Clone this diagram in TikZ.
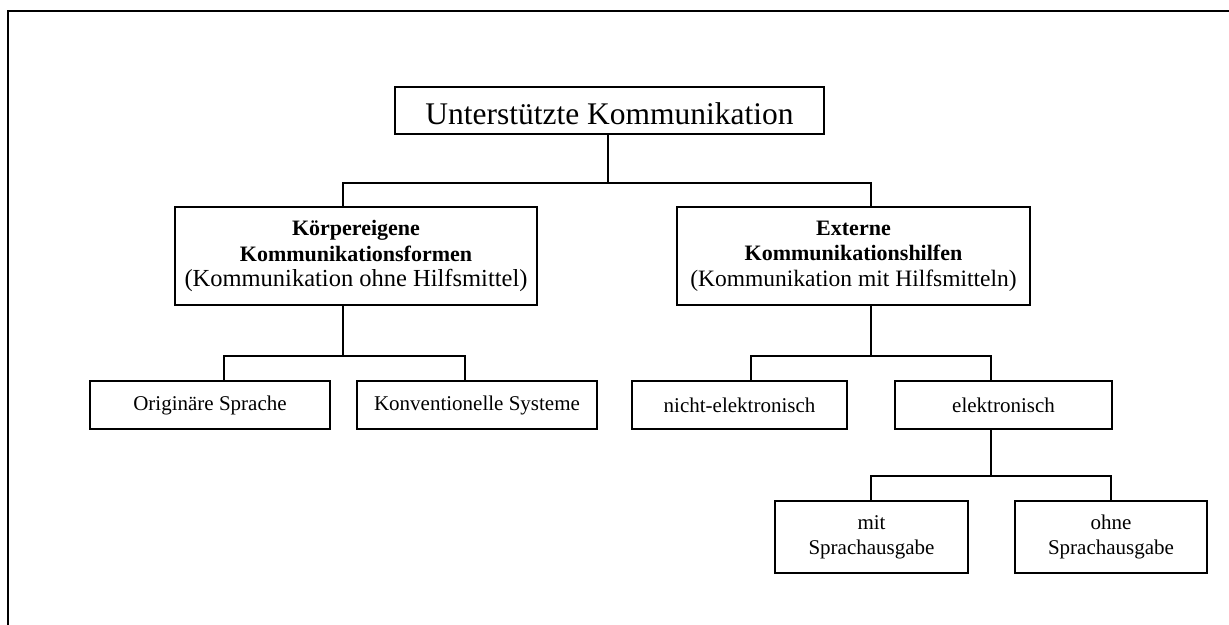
\documentclass[tikz,border=0pt]{standalone}
\usepackage{fontspec}
\setmainfont{Liberation Serif}
\begin{document}
\begin{tikzpicture}[x=1pt,y=-1pt,
  box/.style={draw, line width=1.6pt, rectangle, inner sep=0pt, align=center,
    font=\fontsize{21}{25}\selectfont},
  conn/.style={line width=1.6pt},
  frame/.style={line width=1.8pt}]
\useasboundingbox (0,0) rectangle (1229,624);
\draw[frame] (8,640) -- (8,11) -- (1240,11);

% nodes
\node[box, minimum width=429pt, minimum height=47pt,
  font=\fontsize{31.5}{36}\selectfont] (top) at (609.5,110.5)
  {\raisebox{-3pt}[\height][\depth]{Unterstützte Kommunikation}};
\node[box, minimum width=362pt, minimum height=98pt, font=\fontsize{22}{25.5}\selectfont] (koerper) at (356,256)
  {\textbf{Körpereigene}\\\textbf{Kommunikationsformen}\\{\fontsize{24.5}{25.5}\selectfont(Kommunikation ohne Hilfsmittel)}};
\node[box, minimum width=353pt, minimum height=98pt, font=\fontsize{22}{25.5}\selectfont] (extern) at (853.5,256)
  {\textbf{Externe}\\\textbf{Kommunikationshilfen}\\{\fontsize{23.5}{25.5}\selectfont(Kommunikation mit Hilfsmitteln)}};
\node[box, minimum width=240pt, minimum height=48pt] (orig) at (210,405) {Originäre Sprache};
\node[box, minimum width=240pt, minimum height=48pt] (konv) at (477,405) {Konventionelle Systeme};
\node[box, minimum width=215pt, minimum height=48pt] (nicht) at (739.5,405) {nicht-elektronisch};
\node[box, minimum width=217pt, minimum height=48pt] (elek) at (1003.5,405) {elektronisch};
\node[box, minimum width=193pt, minimum height=72pt] (mit) at (871.5,537) {mit\\Sprachausgabe};
\node[box, minimum width=192pt, minimum height=72pt] (ohne) at (1111,537) {ohne\\Sprachausgabe};

% junction coordinates
\coordinate (j1) at (608,183);
\coordinate (bK) at (343,183);
\coordinate (bE) at (871,183);
\coordinate (j2) at (343,356);
\coordinate (bO) at (224,356);
\coordinate (bKv) at (465,356);
\coordinate (j3) at (871,356);
\coordinate (bN) at (751,356);
\coordinate (bEl) at (991,356);
\coordinate (j4) at (991,476);
\coordinate (bM) at (871,476);
\coordinate (bOh) at (1111,476);

% connectors
\draw[conn] (top.south -| j1) -- (j1);
\draw[conn] (koerper.north -| bK) |- (bE) -- (extern.north -| bE);
\draw[conn] (koerper.south -| j2) -- (j2);
\draw[conn] (orig.north -| bO) |- (bKv) -- (konv.north -| bKv);
\draw[conn] (extern.south -| j3) -- (j3);
\draw[conn] (nicht.north -| bN) |- (bEl) -- (elek.north -| bEl);
\draw[conn] (elek.south -| j4) -- (j4);
\draw[conn] (mit.north -| bM) |- (bOh) -- (ohne.north -| bOh);
\end{tikzpicture}
\end{document}
